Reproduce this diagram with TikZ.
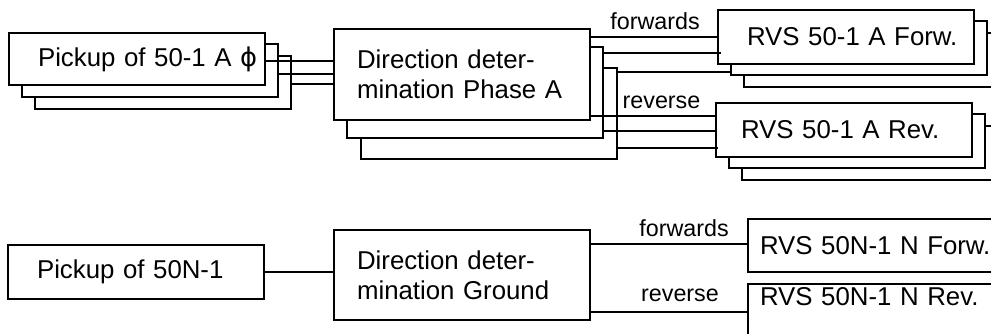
\documentclass[tikz,border=0pt]{standalone}
\usepackage{fontspec}
\setmainfont{Liberation Sans}
\newfontfamily\symfont{DejaVu Sans}
\newcommand\boxfnt{\fontsize{25.8}{30}\selectfont}
\newcommand\lblfnt{\fontsize{23.3}{28}\selectfont}
\begin{document}
\begin{tikzpicture}[x=1pt,y=-1pt,line width=2.1pt,
  bk/.style={draw,fill=white,anchor=north west,minimum width=256pt,minimum height=#1,inner sep=0pt},
  fr/.style={draw,fill=white,anchor=north west,align=left,inner ysep=0pt,minimum height=#1,font=\boxfnt},
  pad/.style 2 args={inner xsep=#1,text width=#2},
  lbl/.style={anchor=base,inner sep=0pt,font=\lblfnt},
  wire/.style={draw,line cap=rect}]
\useasboundingbox (0,0) rectangle (991,333);
\clip (0,0) rectangle (991,333);

% Pickup of 50-1 A (stack of three)
\node[bk=53pt] (pA3) at (34,55) {};
\node[bk=53pt] (pA2) at (21,43) {};
\node[fr=52pt,pad={29pt}{198pt}] (pA1) at (8,32) {\mbox{Pickup of 50-1 A {\symfont ϕ}}};

% Direction determination Phase A (stack of three)
\node[bk=91pt] (dA3) at (360,67) {};
\node[bk=91pt] (dA2) at (346,46) {};
\node[fr=91pt,pad={23pt}{210pt}] (dA1) at (333,28) {Direction deter-\\mination Phase A};

% RVS 50-1 A Forw. (stack of three)
\node[bk=54pt] (rF3) at (743,32) {};
\node[bk=54pt] (rF2) at (730,20) {};
\node[fr=54pt,pad={29pt}{198pt}] (rF1) at (717,9) {\mbox{RVS 50-1 A Forw.}};

% RVS 50-1 A Rev. (stack of three)
\node[bk=54pt] (rR3) at (741,125) {};
\node[bk=54pt] (rR2) at (728,113) {};
\node[fr=54pt,pad={25pt}{206pt}] (rR1) at (715,102) {\mbox{RVS 50-1 A Rev.}};

% Ground path
\node[fr=54pt,pad={29pt}{198pt}] (pN) at (7,244) {\mbox{Pickup of 50N-1}};
\node[fr=90pt,pad={23pt}{210pt}] (dN) at (333,229) {Direction deter-\\mination Ground};
\node[fr=53pt,pad={12pt}{232pt}] (rNF) at (747,218) {\mbox{RVS 50N-1 N Forw.}};
\node[draw,fill=white,anchor=north west,align=left,font=\boxfnt,pad={12pt}{232pt},
      inner ysep=3pt,text height=18.6pt,text depth=40pt] (rNR) at (747,283) {\mbox{RVS 50N-1 N Rev.}};

% connectors: pickup -> direction
\draw[wire] ([yshift=-2pt]pA1.east) -- ([yshift=-2pt]pA1.east -| dA1.west);
\draw[wire] ([yshift=-3.5pt]pA2.east) -- ([yshift=-3.5pt]pA2.east -| dA1.west);
\draw[wire] ([yshift=-1.5pt]pA3.east) -- ([yshift=-1.5pt]pA3.east -| dA1.west);

% direction -> forwards
\draw[wire] ([yshift=-9pt]dA1.north east) -- ([yshift=-9pt]dA1.north east -| rF1.west);
\draw[wire] ([yshift=-7pt]dA2.north east) -- ([yshift=-7pt,xshift=3pt]dA2.north east -| rF1.west);
\draw[wire] ([yshift=-5pt]dA3.north east) -- ([yshift=-5pt]dA3.north east -| rF2.west);

% direction -> reverse
\draw[wire] ([yshift=5pt]dA1.south east) -- ([yshift=5pt]dA1.south east -| rR1.west);
\draw[wire] ([yshift=8pt]dA2.south east) -- ([yshift=8pt]dA2.south east -| rR1.west);
\draw[wire] ([yshift=12pt]dA3.south east) -- ([yshift=12pt,xshift=2pt]dA3.south east -| rR1.west);

% ground connectors
\draw[wire] (pN.east) -- (pN.east -| dN.west);
\draw[wire] ([yshift=-15pt]dN.north east) -- ([yshift=-15pt]dN.north east -| rNF.west);
\draw[wire] ([yshift=9pt]dN.south east) -- ([yshift=9pt]dN.south east -| rNR.west);

% labels
\node[lbl] (lf1) at (655,29) {forwards};
\node[lbl] (lr1) at (661.5,108) {reverse};
\node[lbl] (lf2) at (684,236.7) {forwards};
\node[lbl] (lr2) at (680,301.7) {reverse};
\end{tikzpicture}
\end{document}
